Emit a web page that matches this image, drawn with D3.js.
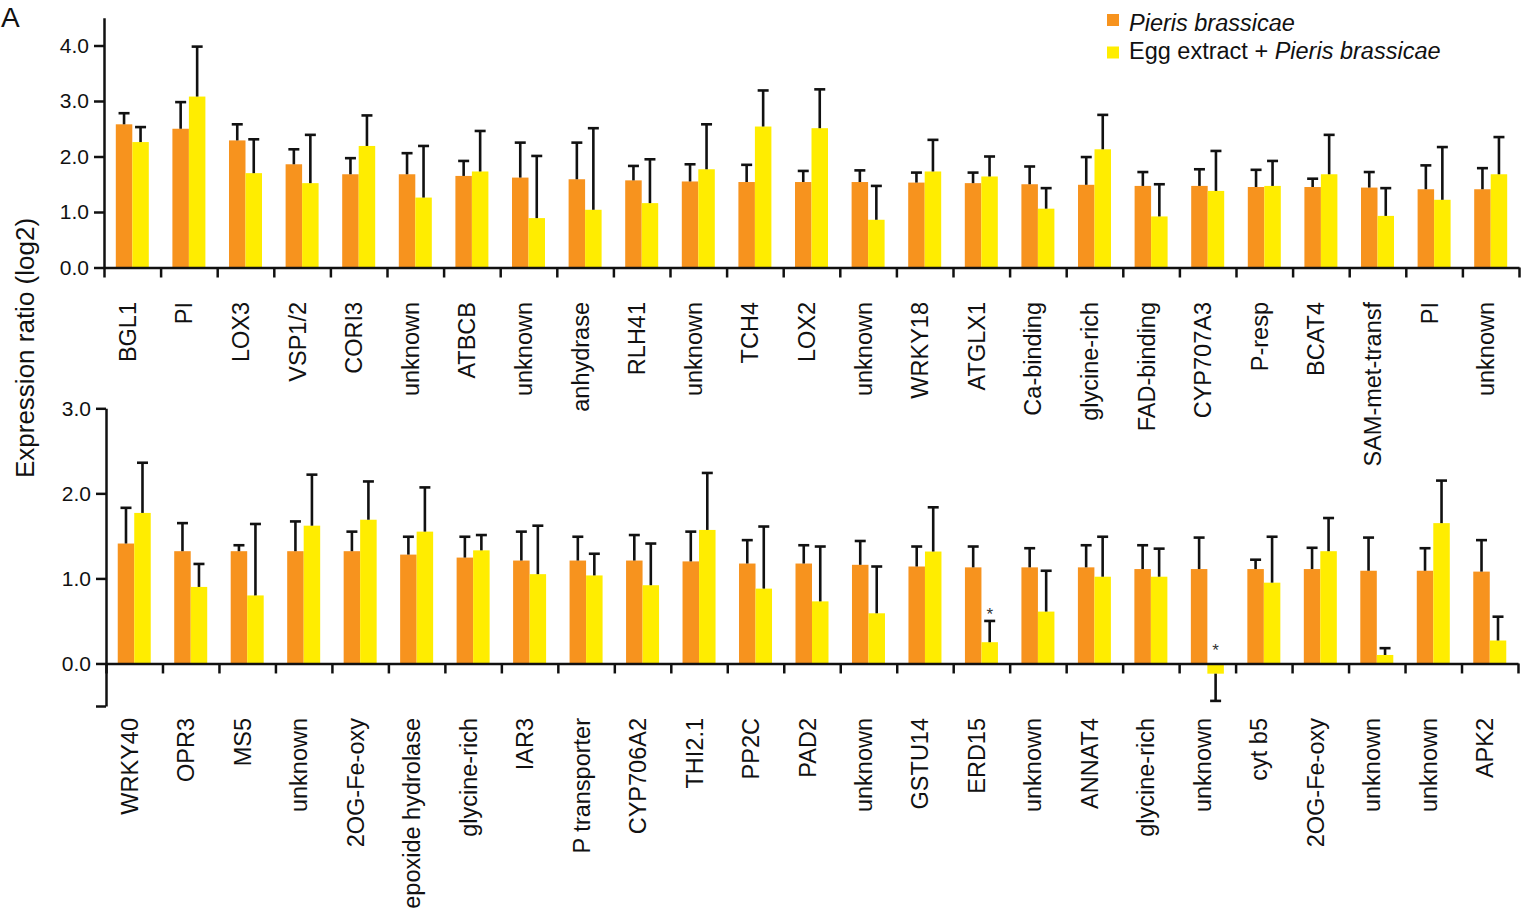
<!DOCTYPE html>
<html>
<head>
<meta charset="utf-8">
<script src="https://cdn.jsdelivr.net/npm/d3@7"></script>
<style>
  html, body { margin: 0; padding: 0; background: #fff; }
  svg { display: block; font-family: "Liberation Sans", Arial, Helvetica, sans-serif; }
</style>
</head>
<body>
<svg id="chart" width="1527" height="922"></svg>
<script>
// Upper panel: genes and mean expression ratios (log2) with SD
const genesTop = ["BGL1","PI","LOX3","VSP1/2","CORI3","unknown","ATBCB","unknown","anhydrase","RLH41",
  "unknown","TCH4","LOX2","unknown","WRKY18","ATGLX1","Ca-binding","glycine-rich","FAD-binding",
  "CYP707A3","P-resp","BCAT4","SAM-met-transf","PI","unknown"];
const pierisTop = [2.58,2.50,2.29,1.86,1.68,1.68,1.65,1.62,1.59,1.57,1.55,1.54,1.54,1.54,1.53,1.52,
  1.50,1.49,1.47,1.47,1.45,1.45,1.44,1.41,1.41];
const pierisTopSD = [0.20,0.48,0.29,0.27,0.29,0.38,0.27,0.63,0.66,0.26,0.31,0.31,0.20,0.21,0.18,0.19,
  0.32,0.50,0.25,0.30,0.31,0.15,0.28,0.43,0.38];
const eggTop = [2.26,3.08,1.70,1.52,2.19,1.26,1.73,0.89,1.04,1.16,1.77,2.54,2.51,0.86,1.73,1.64,
  1.06,2.13,0.92,1.38,1.47,1.68,0.93,1.22,1.68];
const eggTopSD = [0.27,0.90,0.61,0.87,0.55,0.93,0.73,1.12,1.47,0.79,0.81,0.65,0.70,0.61,0.57,0.36,
  0.37,0.62,0.58,0.72,0.45,0.71,0.50,0.95,0.67];
const eggTopSig = [];

// Lower panel
const genesBottom = ["WRKY40","OPR3","MS5","unknown","2OG-Fe-oxy","epoxide hydrolase","glycine-rich",
  "IAR3","P transporter","CYP706A2","THI2.1","PP2C","PAD2","unknown","GSTU14","ERD15","unknown",
  "ANNAT4","glycine-rich","unknown","cyt b5","2OG-Fe-oxy","unknown","unknown","APK2"];
const pierisBottom = [1.41,1.32,1.32,1.32,1.32,1.28,1.245,1.21,1.21,1.21,1.20,1.175,1.175,1.16,1.14,
  1.13,1.13,1.13,1.11,1.11,1.11,1.11,1.09,1.09,1.08];
const pierisBottomSD = [0.42,0.33,0.07,0.35,0.23,0.21,0.245,0.34,0.28,0.30,0.35,0.275,0.215,0.28,0.235,
  0.245,0.225,0.26,0.28,0.37,0.11,0.25,0.39,0.265,0.37];
const eggBottom = [1.77,0.90,0.80,1.62,1.69,1.55,1.33,1.05,1.035,0.92,1.57,0.88,0.73,0.59,1.316,
  0.25,0.61,1.02,1.02,-0.12,0.95,1.32,0.10,1.65,0.27];
const eggBottomSD = [0.59,0.27,0.84,0.60,0.45,0.52,0.18,0.57,0.255,0.49,0.67,0.73,0.645,0.55,0.52,
  0.25,0.48,0.47,0.33,0.32,0.54,0.39,0.08,0.50,0.28];
const eggBottomSig = [15, 19];   // marked with an asterisk

// Axis ticks and legend
const topTicks = [0, 1, 2, 3, 4];
const bottomTicks = [-0.5, 0, 1, 2, 3];
const seriesNames = ["Pieris brassicae", "Egg extract + Pieris brassicae"];
const colors = ["#f7931e", "#ffed00"];

const svg = d3.select("#chart");
const fmt = d3.format(".1f");
const AXIS_W = 2.5;

const panels = [
  { genes: genesTop, series: [[pierisTop, pierisTopSD], [eggTop, eggTopSD]], sig: eggTopSig,
    yDomain: [0, 4.5], yRange: [267.5, 17.75], xRange: [104, 1519], ticks: topTicks, labelY: 302 },
  { genes: genesBottom, series: [[pierisBottom, pierisBottomSD], [eggBottom, eggBottomSD]], sig: eggBottomSig,
    yDomain: [-0.5, 3], yRange: [706, 408.3], xRange: [106, 1518], ticks: bottomTicks, labelY: 718 }
];

panels.forEach(p => {
  const g = svg.append("g");
  const idx = d3.range(p.genes.length);
  const x = d3.scaleBand().domain(idx).range(p.xRange).paddingInner(0);
  const xEdge = d3.scaleLinear().domain([0, p.genes.length]).range(p.xRange);
  const y = d3.scaleLinear().domain(p.yDomain).range(p.yRange);
  const sub = d3.scaleBand().domain([0, 1]).range([-16.5, 16.5]);

  // bars
  p.series.forEach(([vals, sds], s) => {
    g.append("g").selectAll("rect").data(idx).join("rect")
      .attr("x", i => x(i) + x.bandwidth() / 2 + sub(s))
      .attr("width", sub.bandwidth())
      .attr("y", i => y(Math.max(0, vals[i])))
      .attr("height", i => Math.abs(y(vals[i]) - y(0)))
      .attr("fill", colors[s]);

    // error bars extend away from zero
    const eb = g.append("g").attr("stroke", "#111").attr("stroke-width", 2.6).attr("fill", "none");
    idx.forEach(i => {
      const cx = x(i) + x.bandwidth() / 2 + sub(s) + sub.bandwidth() / 2;
      const dir = vals[i] < 0 ? -1 : 1;
      const tip = vals[i] + dir * sds[i];
      eb.append("line").attr("x1", cx).attr("x2", cx).attr("y1", y(vals[i])).attr("y2", y(tip));
      eb.append("line").attr("x1", cx - 5.5).attr("x2", cx + 5.5).attr("y1", y(tip)).attr("y2", y(tip));
    });
  });

  // significance asterisks (second series)
  const [eggVals, eggSDs] = p.series[1];
  g.append("g").selectAll("text").data(p.sig).join("text")
    .attr("x", i => x(i) + x.bandwidth() / 2 + sub(1) + sub.bandwidth() / 2)
    .attr("y", i => {
      const top = eggVals[i] >= 0 ? eggVals[i] + eggSDs[i] : 0;
      return y(top) - (eggVals[i] >= 0 ? 1 : 7);
    })
    .attr("text-anchor", "middle")
    .attr("font-size", 17)
    .attr("fill", "#333")
    .text("*");

  // x axis with boundary ticks
  const xAxis = g.append("g").attr("transform", `translate(0,${y(0)})`)
    .call(d3.axisBottom(xEdge).tickValues(d3.range(p.genes.length + 1)).tickFormat("")
      .tickSize(10).tickSizeOuter(0));
  xAxis.selectAll("path, line").attr("stroke", "#111").attr("stroke-width", AXIS_W);

  // y axis
  const yAxis = g.append("g").attr("transform", `translate(${p.xRange[0]},0)`)
    .call(d3.axisLeft(y).tickValues(p.ticks).tickFormat(d => d < 0 ? "" : fmt(d))
      .tickSize(10).tickSizeOuter(0).tickPadding(5));
  yAxis.selectAll("path, line").attr("stroke", "#111").attr("stroke-width", AXIS_W);
  yAxis.selectAll("text").attr("font-size", 21).attr("fill", "#111")
    .attr("font-family", "'Liberation Sans', Arial, sans-serif");

  // rotated gene labels
  g.append("g").selectAll("text").data(idx).join("text")
    .attr("transform", i => `translate(${x(i) + x.bandwidth() / 2 + 3.5},${p.labelY}) rotate(-90)`)
    .attr("text-anchor", "end")
    .attr("font-size", 23.5)
    .attr("fill", "#111")
    .text(i => p.genes[i]);
});

// y axis title shared by both panels
svg.append("text")
  .attr("transform", "translate(33.5,348) rotate(-90)")
  .attr("text-anchor", "middle")
  .attr("font-size", 26)
  .attr("fill", "#111")
  .text("Expression ratio (log2)");

// panel letter
svg.append("text").attr("x", 1).attr("y", 27).attr("font-size", 28).attr("fill", "#111").text("A");

// legend
const legend = svg.append("g");
const legendRows = [{ box: 14, base: 31 }, { box: 46.5, base: 59 }];
seriesNames.forEach((name, s) => {
  legend.append("rect").attr("x", 1107).attr("y", legendRows[s].box).attr("width", 12).attr("height", 12)
    .attr("fill", colors[s]);
  const t = legend.append("text").attr("x", 1129).attr("y", legendRows[s].base)
    .attr("font-size", 23.5).attr("fill", "#111");
  if (s === 0) {
    t.append("tspan").attr("font-style", "italic").text(name);
  } else {
    t.append("tspan").text("Egg extract + ");
    t.append("tspan").attr("font-style", "italic").text("Pieris brassicae");
  }
});
</script>
</body>
</html>
